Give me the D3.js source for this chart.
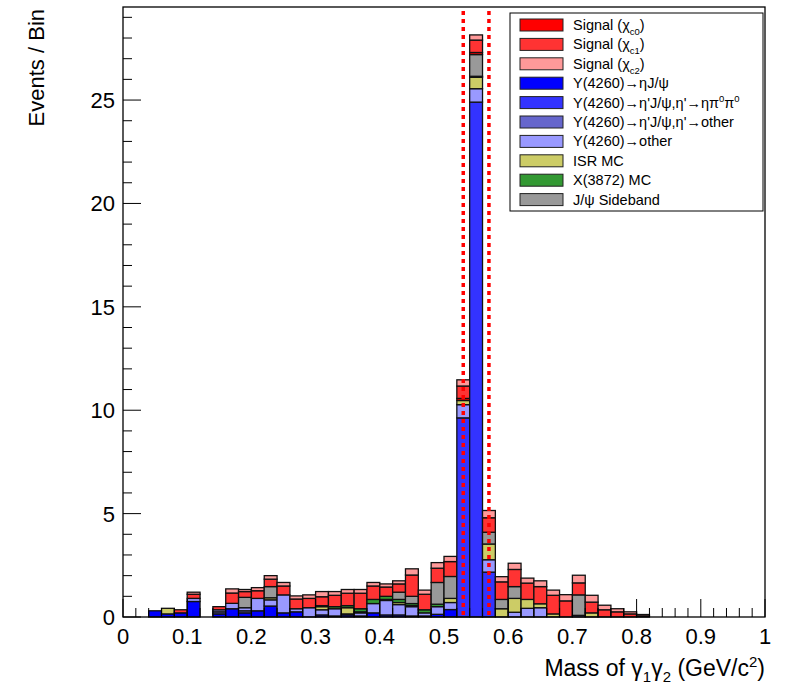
<!DOCTYPE html>
<html><head><meta charset="utf-8">
<script src="https://cdn.jsdelivr.net/npm/d3@7"></script>
<style>body{margin:0;background:#fff}text{font-family:"Liberation Sans",Arial,sans-serif}</style>
</head><body><svg id="c" width="791" height="695"></svg>
<script>
// bin low edges (width 0.02)
const binLow = d3.range(39).map(i => +(0.04 + 0.02 * i).toFixed(2));
const binWidth = 0.02;
// components, stacked bottom to top
const etaJpsi   = [.3,.15,.2,.75,0,.15,.4,.2,.3,.53,.2,.25,0,.1,.05,.1,.05,.2,.1,.1,.05,.05,.13,.36,0,0,0,0,0,0,0,0,0,0,0,0,0,0,0];
const etaP3pi   = [0,0,0,0,0,0,0,0,0,0,0,0,0,0,0,0,0,0,0,0,0,0,0,0,9.63,24.9,2.17,0,0,0,0,0,0,0,0,0,0,0,0];
const etaPOther = [0,0,0,0,0,.1,0,.1,0,0,0,0,0,0,0,.05,0,0,0,0,0,0,0,0,0,0,0,0,0,0,0,0,0,.08,0,0,0,0,0];
const yOther    = [0,0,0,.15,0,.1,.26,.15,.6,.3,.87,.15,.45,.25,.35,0,.15,.45,.7,.5,.45,.15,.37,.34,.64,.65,.6,0,.23,.42,.45,0,0,0,0,0,0,0,0];
const isrMC     = [0,.27,0,0,0,0,0,0,0,.1,0,0,0,.15,0,.3,.05,0,.05,.1,.05,0,0,.2,.2,.55,.76,.4,.67,.43,.19,.15,0,0,.2,0,0,0,0];
const x3872     = [0,0,0,0,0,0,0,0,0,0,0,0,0,.05,.1,.1,.15,.2,.15,.15,.1,.15,.12,0,0,.05,0,0,0,0,0,0,0,0,0,0,0,0,0];
const sideband  = [0,0,0,0,0,0,0,.5,0,.54,0,0,0,0,0,0,0,0,0,.35,.35,0,1.05,1.06,0,1.05,.57,.45,.57,0,0,0,0,.99,0,0,0,0,0];
const chic0     = [0,0,0,0,0,0,0,0,0,0,0,0,0,0,0,0,0,0,0,0,0,0,0,0,.1,.1,0,0,0,0,0,0,0,0,0,0,0,0,0];
const chic1     = [0,0,.15,.2,0,.15,.5,.28,.37,.36,.43,.47,.45,.43,.55,.6,.75,.65,.45,.4,1.03,.75,.69,.72,.6,.6,.7,.85,.83,.79,.83,.9,.78,.58,.52,.35,.25,.15,.05];
const chic2     = [0,0,0,.1,0,0,.2,.1,.15,.17,.17,.15,.17,.25,.18,.18,.18,.17,.15,.15,.3,.2,.27,.25,.3,.25,.35,.25,.3,.24,.28,.25,.3,.37,.33,.22,.15,.1,.07];
const cutLines = [0.53, 0.57];

const series = [
  {v: etaJpsi, c: "#0000ff"}, {v: etaP3pi, c: "#3333ff"}, {v: etaPOther, c: "#6666cc"},
  {v: yOther, c: "#9999ff"}, {v: isrMC, c: "#cccc66"}, {v: x3872, c: "#339933"},
  {v: sideband, c: "#999999"}, {v: chic0, c: "#ff0000"}, {v: chic1, c: "#ff3333"}, {v: chic2, c: "#ff9999"}
];

const svg = d3.select("#c");
const L = 123, R = 765, T = 7, B = 617;
const x = d3.scaleLinear().domain([0, 1]).range([L, R]);
const y = d3.scaleLinear().domain([0, 29.5]).range([B, T]);

// stacked bars
const g = svg.append("g");
binLow.forEach((lo, i) => {
  let base = 0;
  series.forEach(s => {
    const v = s.v[i];
    if (v <= 0) return;
    g.append("rect")
      .attr("x", x(lo)).attr("width", x(lo + binWidth) - x(lo))
      .attr("y", y(base + v)).attr("height", y(base) - y(base + v))
      .attr("fill", s.c).attr("stroke", "#111").attr("stroke-width", 1.3);
    base += v;
  });
});

// cut lines
cutLines.forEach(c => {
  svg.append("line").attr("x1", x(c)).attr("x2", x(c)).attr("y1", T + 4).attr("y2", B)
    .attr("stroke", "#ff0000").attr("stroke-width", 3.5).attr("stroke-dasharray", "4,4");
});

// frame
svg.append("rect").attr("x", L).attr("y", T).attr("width", R - L).attr("height", B - T)
  .attr("fill", "none").attr("stroke", "#000").attr("stroke-width", 1.3);

// ticks (inside, ROOT style)
const ax = svg.append("g");
d3.range(0, 1.0001, 0.02).forEach((t, i) => {
  const major = i % 5 === 0;
  ax.append("line").attr("x1", x(t)).attr("x2", x(t)).attr("y1", B).attr("y2", B - (major ? 18 : 9)).attr("stroke", "#000");
});
d3.range(0, 30, 1).forEach(t => {
  const major = t % 5 === 0;
  ax.append("line").attr("x1", L).attr("x2", L + (major ? 18 : 9)).attr("y1", y(t)).attr("y2", y(t)).attr("stroke", "#000");
});
d3.range(0, 1.0001, 0.1).forEach(t => {
  ax.append("text").attr("x", x(t)).attr("y", B + 27).attr("text-anchor", "middle")
    .attr("font-size", 22).text(d3.format("~g")(+t.toFixed(1)));
});
d3.range(0, 30, 5).forEach(t => {
  ax.append("text").attr("x", L - 8).attr("y", y(t) + 8).attr("text-anchor", "end")
    .attr("font-size", 22).text(t);
});

// axis titles
svg.append("text").attr("transform", `translate(44,${T + 2}) rotate(-90)`).attr("text-anchor", "end")
  .attr("font-size", 22).text("Events / Bin");
const xt = svg.append("text").attr("x", R).attr("y", 676).attr("text-anchor", "end").attr("font-size", 23);
xt.append("tspan").text("Mass of γ");
xt.append("tspan").attr("font-size", 15).attr("dy", 6).text("1");
xt.append("tspan").attr("dy", -6).text("γ");
xt.append("tspan").attr("font-size", 15).attr("dy", 6).text("2");
xt.append("tspan").attr("dy", -6).text(" (GeV/c");
xt.append("tspan").attr("font-size", 15).attr("dy", -9).text("2");
xt.append("tspan").attr("dy", 9).text(")");

// legend
const legendEntries = [
  [["Signal (χ"], ["c0", "sub"], [")"]],
  [["Signal (χ"], ["c1", "sub"], [")"]],
  [["Signal (χ"], ["c2", "sub"], [")"]],
  [["Y(4260)→ηJ/ψ"]],
  [["Y(4260)→η'J/ψ,η'→ηπ"], ["0", "sup"], ["π"], ["0", "sup"]],
  [["Y(4260)→η'J/ψ,η'→other"]],
  [["Y(4260)→other"]],
  [["ISR MC"]],
  [["X(3872) MC"]],
  [["J/ψ Sideband"]]
];
const legendColors = ["#ff0000", "#ff3333", "#ff9999", "#0000ff", "#3333ff", "#6666cc", "#9999ff", "#cccc66", "#339933", "#999999"];
svg.append("rect").attr("x", 510).attr("y", 13).attr("width", 253).attr("height", 198)
  .attr("fill", "#fff").attr("stroke", "#000");
legendEntries.forEach((parts, i) => {
  const cy = 25 + i * 19.4;
  svg.append("rect").attr("x", 520).attr("y", cy - 6).attr("width", 43).attr("height", 12)
    .attr("fill", legendColors[i]).attr("stroke", "#222");
  const t = svg.append("text").attr("x", 573).attr("y", cy + 5).attr("font-size", 14.5)
    .attr("textLength", null);
  let shift = 0;
  parts.forEach(([s, kind]) => {
    const target = kind === "sub" ? 5 : kind === "sup" ? -6 : 0;
    t.append("tspan").attr("dy", target - shift).attr("font-size", kind ? 9.5 : 14.5).text(s);
    shift = target;
  });
});
</script></body></html>
